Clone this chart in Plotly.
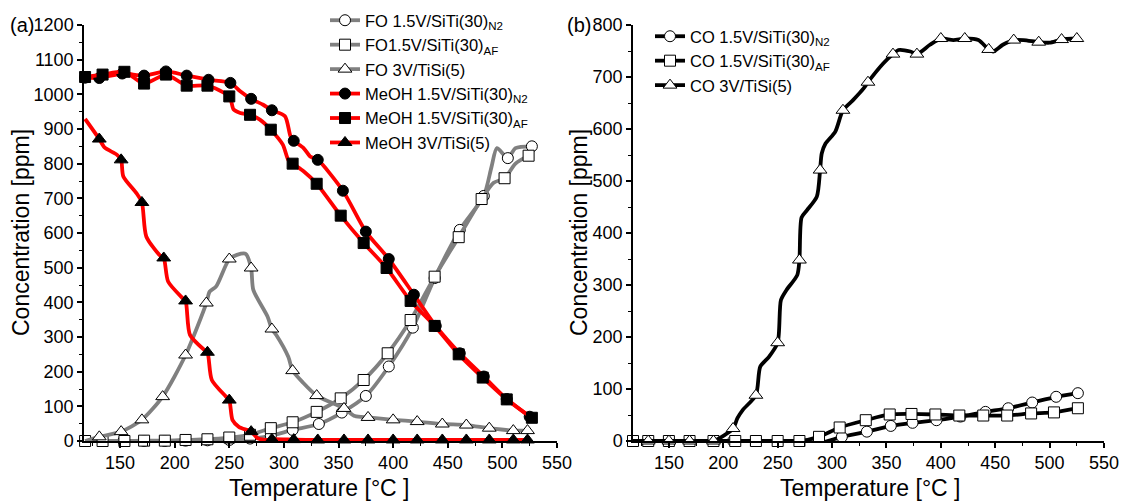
import plotly.graph_objects as go

# ---------------- data (left panel: FO and MeOH) ----------------
fo_n2_T = [118, 134, 153, 172, 191, 210, 230, 250, 269, 288, 308, 332, 353, 375, 396, 418, 438, 461, 483, 505, 527]
fo_n2_y = [0, 0, 0, 0, 0, 1, 2, 3, 7, 15, 32, 49, 82, 130, 215, 327, 470, 609, 707, 816, 850]
fo_n2_xT = [490, 495, 512]
fo_n2_xy = [790, 845, 845]

fo_af_T = [118, 134, 154, 172, 191, 210, 230, 250, 269, 288, 308, 330, 352, 373, 395, 416, 438, 460, 481, 502, 524]
fo_af_y = [0, 0, 0, 1, 1, 3, 5, 10, 18, 37, 54, 84, 123, 176, 253, 349, 474, 588, 698, 758, 823]
fo_af_xT = [492, 512]
fo_af_xy = [745, 800]

fo_3v_T = [131, 151, 170, 189, 210, 229, 250, 270, 289, 308, 330, 355, 377, 400, 422, 445, 467, 488, 510, 523]
fo_3v_y = [12, 27, 61, 128, 248, 398, 525, 499, 323, 203, 131, 94, 68, 61, 56, 49, 46, 37, 30, 30]
fo_3v_xT = [118, 232, 238, 257, 265, 272, 285, 293, 304, 317, 365]
fo_3v_xy = [0, 431, 446, 537, 540, 436, 359, 306, 243, 170, 72]

meoh_n2_T = [118, 131, 152, 172, 192, 211, 231, 251, 270, 289, 309, 331, 354, 375, 396, 419, 439, 461, 483, 504, 525]
meoh_n2_y = [1048, 1047, 1060, 1054, 1066, 1054, 1042, 1033, 987, 954, 866, 811, 722, 604, 525, 422, 332, 253, 186, 121, 70]
meoh_n2_xT = [260, 281, 301, 306, 318, 324]
meoh_n2_xy = [1009, 970, 937, 879, 845, 821]

meoh_af_T = [118, 134, 154, 172, 192, 211, 230, 250, 269, 288, 308, 330, 352, 373, 394, 416, 438, 460, 482, 504, 527]
meoh_af_y = [1050, 1057, 1065, 1031, 1057, 1025, 1025, 994, 941, 898, 800, 742, 650, 571, 499, 404, 332, 250, 183, 120, 67]
meoh_af_xT = [254, 260, 278, 299, 304, 318]
meoh_af_xy = [956, 946, 927, 855, 811, 778]

meoh_3v_T = [131, 151, 170, 190, 210, 230, 250, 270, 289, 309, 331, 355, 377, 400, 422, 445, 467, 488, 510, 523]
meoh_3v_y = [871, 811, 688, 528, 404, 256, 118, 27, 5, 4, 3, 3, 3, 3, 3, 3, 3, 3, 3, 3]
meoh_3v_xT = [118, 136, 147, 153, 165, 174, 186, 194, 207, 214, 227, 234, 247, 253, 259, 276, 285]
meoh_3v_xy = [929, 846, 826, 763, 715, 590, 537, 460, 413, 306, 263, 176, 128, 60, 40, 8, 3]

# ---------------- data (right panel: CO) ----------------
co_n2_T = [117, 131, 150, 169, 191, 209, 230, 250, 270, 288, 309, 332, 354, 374, 396, 418, 441, 462, 484, 506, 526]
co_n2_y = [0, 0, 0, 0, 0, 0, 0, 0, 0, -4, 8, 18, 29, 35, 40, 47, 56, 63, 74, 85, 92]

co_af_T = [117, 131, 150, 169, 191, 211, 230, 250, 270, 288, 307, 331, 353, 373, 395, 417, 439, 461, 483, 504, 526]
co_af_y = [0, 0, 0, 0, 0, 0, 0, 0, 0, 8, 26, 40, 51, 52, 51, 49, 49, 49, 53, 55, 63]

co_3v_T = [131, 150, 169, 191, 209, 230, 250, 270, 289, 310, 333, 356, 378, 400, 422, 444, 467, 490, 511, 525]
co_3v_y = [0, 0, 0, 0, 24, 88, 189, 348, 521, 636, 690, 744, 744, 774, 774, 753, 771, 767, 772, 774]
co_3v_xT = [117, 213, 218, 234, 242, 253, 258, 268, 272, 277, 286, 290.5, 294, 303, 319.5, 329, 347, 361, 372, 390, 411.5, 434.5, 448, 457, 476, 500]
co_3v_xy = [0, 44, 60, 143, 162, 271, 290, 319, 430, 444, 470, 553, 572, 595, 656, 678, 726, 752, 749, 762, 771, 771, 749, 762, 771, 766]

x_ticks = [150, 200, 250, 300, 350, 400, 450, 500, 550]
y_ticks_left = list(range(0, 1201, 100))
y_ticks_right = list(range(0, 801, 100))

# ---------------- helpers ----------------
def merged(mT, my, eT=None, ey=None):
    pts = list(zip(mT, my)) + (list(zip(eT, ey)) if eT else [])
    pts.sort(key=lambda p: p[0])
    return [p[0] for p in pts], [p[1] for p in pts]

GREY = "rgb(128,128,128)"
RED = "rgb(255,0,0)"
BLACK = "black"
LW = 3.8

fig = go.Figure()

def add_series(name, mT, my, eT, ey, lcolor, symbol, mfill, xa, ya, legend):
    lx, ly = merged(mT, my, eT, ey)
    msize = 12 if "triangle" in symbol else 11
    fig.add_trace(go.Scatter(x=lx, y=ly, mode="lines", line=dict(color=lcolor, width=LW, shape="spline", smoothing=0.7),
                             showlegend=False, xaxis=xa, yaxis=ya, cliponaxis=False, hoverinfo="skip"))
    fig.add_trace(go.Scatter(x=mT, y=my, mode="markers",
                             marker=dict(symbol=symbol, size=msize, color=mfill, line=dict(color="black", width=1)),
                             showlegend=False, xaxis=xa, yaxis=ya, cliponaxis=False))
    fig.add_trace(go.Scatter(x=[None], y=[None], mode="lines+markers", name=name,
                             line=dict(color=lcolor, width=LW),
                             marker=dict(symbol=symbol, size=msize, color=mfill, line=dict(color="black", width=1)),
                             xaxis=xa, yaxis=ya, legend=legend))

add_series("FO 1.5V/SiTi(30)<sub>N2</sub>", fo_n2_T, fo_n2_y, fo_n2_xT, fo_n2_xy, GREY, "circle", "white", "x", "y", "legend")
add_series("FO1.5V/SiTi(30)<sub>AF</sub>", fo_af_T, fo_af_y, fo_af_xT, fo_af_xy, GREY, "square", "white", "x", "y", "legend")
add_series("FO 3V/TiSi(5)", fo_3v_T, fo_3v_y, fo_3v_xT, fo_3v_xy, GREY, "triangle-up", "white", "x", "y", "legend")
add_series("MeOH 1.5V/SiTi(30)<sub>N2</sub>", meoh_n2_T, meoh_n2_y, meoh_n2_xT, meoh_n2_xy, RED, "circle", "black", "x", "y", "legend")
add_series("MeOH 1.5V/SiTi(30)<sub>AF</sub>", meoh_af_T, meoh_af_y, meoh_af_xT, meoh_af_xy, RED, "square", "black", "x", "y", "legend")
add_series("MeOH 3V/TiSi(5)", meoh_3v_T, meoh_3v_y, meoh_3v_xT, meoh_3v_xy, RED, "triangle-up", "black", "x", "y", "legend")

add_series("CO 1.5V/SiTi(30)<sub>N2</sub>", co_n2_T, co_n2_y, None, None, BLACK, "circle", "white", "x2", "y2", "legend2")
add_series("CO 1.5V/SiTi(30)<sub>AF</sub>", co_af_T, co_af_y, None, None, BLACK, "square", "white", "x2", "y2", "legend2")
add_series("CO 3V/TiSi(5)", co_3v_T, co_3v_y, co_3v_xT, co_3v_xy, BLACK, "triangle-up", "white", "x2", "y2", "legend2")

# the page body has an 8 px margin, so the figure is 8 px smaller than the window
W, H = 1121, 493
OFF = 8  # screenshot pixel = figure pixel + OFF
FONT = "Arial, Liberation Sans, sans-serif"

def px_x(p):  # p given in screenshot pixels
    return (p - OFF) / W

def px_y(p):
    return 1 - (p - OFF) / H

axis_common = dict(showline=True, linecolor="black", linewidth=1.5, ticks="outside", ticklen=5, tickwidth=1.5,
                   tickcolor="black", showgrid=False, zeroline=False, automargin=False,
                   tickfont=dict(family=FONT, size=18, color="black"))
minor_x = dict(dtick=25, tick0=0, ticklen=3, tickwidth=1.2, tickcolor="black", ticks="outside")
minor_y = dict(dtick=50, tick0=0, ticklen=3, tickwidth=1.2, tickcolor="black", ticks="outside")

y_dom = [px_y(441), px_y(25)]
fig.update_layout(
    width=W, height=H, margin=dict(l=0, r=0, t=0, b=0, pad=0, autoexpand=False),
    paper_bgcolor="white", plot_bgcolor="white",
    font=dict(family=FONT, color="black"),
    xaxis=dict(domain=[px_x(84), px_x(557)], range=[117, 550], tickvals=x_ticks, anchor="y", minor=minor_x, **axis_common),
    yaxis=dict(domain=y_dom, range=[0, 1200], tickvals=y_ticks_left, anchor="x", minor=minor_y, **axis_common),
    xaxis2=dict(domain=[px_x(633), px_x(1104)], range=[117, 550], tickvals=x_ticks, anchor="y2", minor=minor_x, **axis_common),
    yaxis2=dict(domain=y_dom, range=[0, 800], tickvals=y_ticks_right, anchor="x2", minor=minor_y, **axis_common),
    legend=dict(x=px_x(325), y=px_y(3), xanchor="left", yanchor="top", bgcolor="rgba(0,0,0,0)",
                font=dict(family=FONT, size=16.5, color="black"), tracegroupgap=0),
    legend2=dict(x=px_x(650), y=px_y(19), xanchor="left", yanchor="top", bgcolor="rgba(0,0,0,0)",
                 font=dict(family=FONT, size=16.5, color="black"), tracegroupgap=0),
)

ann = [
    dict(text="(a)", x=px_x(8), y=px_y(25), xanchor="left", yanchor="middle", font=dict(size=20)),
    dict(text="(b)", x=px_x(565), y=px_y(25), xanchor="left", yanchor="middle", font=dict(size=20)),
    dict(text="Concentration [ppm]", x=px_x(21), y=px_y(233), textangle=-90, xanchor="center", yanchor="middle", font=dict(size=23)),
    dict(text="Concentration [ppm]", x=px_x(579), y=px_y(233), textangle=-90, xanchor="center", yanchor="middle", font=dict(size=23)),
    dict(text="Temperature [°C ]", x=px_x(320), y=px_y(488), xanchor="center", yanchor="middle", font=dict(size=23)),
    dict(text="Temperature [°C ]", x=px_x(870), y=px_y(488), xanchor="center", yanchor="middle", font=dict(size=23)),
]
for a in ann:
    a.update(xref="paper", yref="paper", showarrow=False)
    a["font"].update(family=FONT, color="black")
fig.update_layout(annotations=ann)

fig.write_html("out.html")
